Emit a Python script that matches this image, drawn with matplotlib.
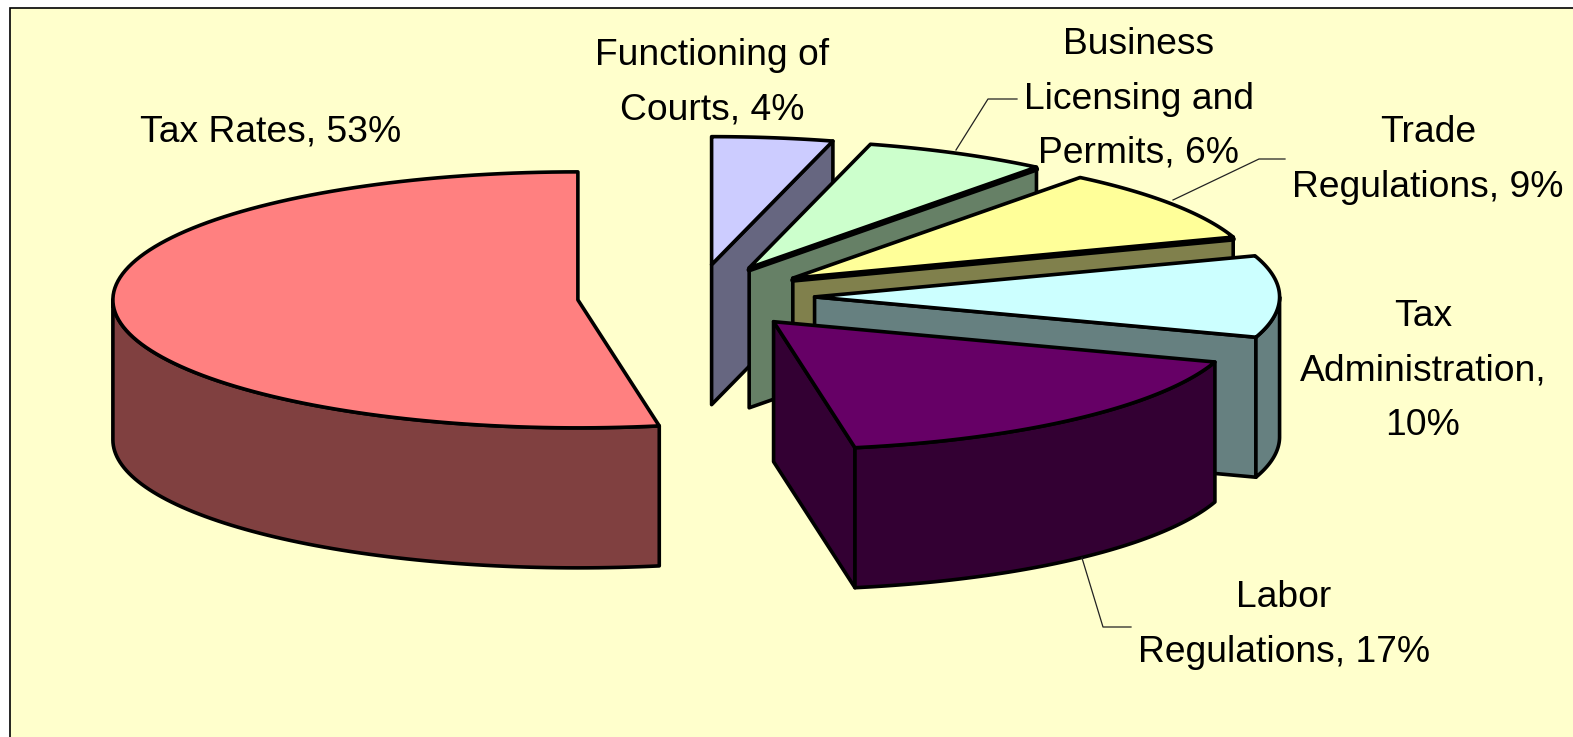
import numpy as np
import matplotlib
matplotlib.use("Agg")
import matplotlib.pyplot as plt
from matplotlib.patches import Polygon

plt.rcParams['font.family'] = ['Liberation Sans', 'DejaVu Sans']

# clockwise from 12 o'clock, labels show the rounded share
shares = [4.2, 6.4, 9.2, 10.3, 17.1, 52.8]
labels = ['Functioning of\nCourts, 4%', 'Business\nLicensing and\nPermits, 6%',
          'Trade\nRegulations, 9%', 'Tax\nAdministration,\n10%',
          'Labor\nRegulations, 17%', 'Tax Rates, 53%']
top_colors = ['#CCCCFF', '#CCFFCC', '#FFFF99', '#CCFFFF', '#660066', '#FF8080']
side_colors = ['#666680', '#668066', '#80804C', '#668080', '#330033', '#804040']

label_pos = [(712, 83), (1139, 99), (1428, 160), (1423, 371), (1284, 625), (271, 132)]

W, H = 1573, 737
cx, cy = 696, 297
rx, ry = 465, 128
depth = 140
explode = 0.255


def ell(x0, y0, deg):
    a = np.radians(deg)
    return x0 + rx*np.sin(a), y0 - ry*np.cos(a)


fig = plt.figure(figsize=(W/100, H/100), dpi=100)
ax = fig.add_axes([0, 0, 1, 1])
ax.set_xlim(0, W)
ax.set_ylim(H, 0)
ax.axis('off')
fig.patch.set_facecolor('white')

ax.add_patch(plt.Rectangle((10, 8), W, H, fc='#FFFFCC', ec='black', lw=1.2))

edges = np.concatenate([[0], np.cumsum(shares)]) * 3.6
lw = 2.6


def draw_slice(i):
    start, end = edges[i], edges[i+1]
    mx, my = ell(0, 0, (start + end)/2)
    x0, y0 = cx + explode*mx, cy + explode*my
    ex, ey = ell(x0, y0, end)
    c = side_colors[i]
    # cut face, only when it is turned towards the viewer
    if end < 180:
        ax.add_patch(Polygon([(x0, y0), (ex, ey), (ex, ey+depth), (x0, y0+depth)],
                             fc=c, ec='black', lw=lw, joinstyle='round'))
    # outer rim, front half of the ellipse only
    a0, a1 = max(start, 90), min(end, 270)
    if a1 > a0:
        t = np.linspace(a0, a1, 80)
        px, py = ell(x0, y0, t)
        pts = list(zip(px, py)) + list(zip(px[::-1], py[::-1] + depth))
        ax.add_patch(Polygon(pts, fc=c, ec='black', lw=lw, joinstyle='round'))
    # top
    t = np.linspace(start, end, 120)
    px, py = ell(x0, y0, t)
    pts = [(x0, y0)] + list(zip(px, py))
    ax.add_patch(Polygon(pts, fc=top_colors[i], ec='black', lw=lw, joinstyle='round'))
    # these two have a heavier edge along the cut
    if i in (1, 2):
        ax.plot([x0, ex], [y0 + 2, ey + 2], color='black', lw=lw + 1.2, solid_capstyle='round')


for i in range(len(shares)):
    draw_slice(i)

for lab, (x, y) in zip(labels, label_pos):
    ax.text(x, y, lab, ha='center', va='center', fontsize=26.8, color='black', linespacing=1.72)

# leader lines
ax.plot([956, 988, 1017], [150, 99, 99], color='#222222', lw=0.9)
ax.plot([1173, 1259, 1285], [200, 159, 159], color='#222222', lw=0.9)
ax.plot([1082, 1103, 1131], [558, 627, 627], color='#222222', lw=0.9)

fig.savefig('out.png', dpi=100)
